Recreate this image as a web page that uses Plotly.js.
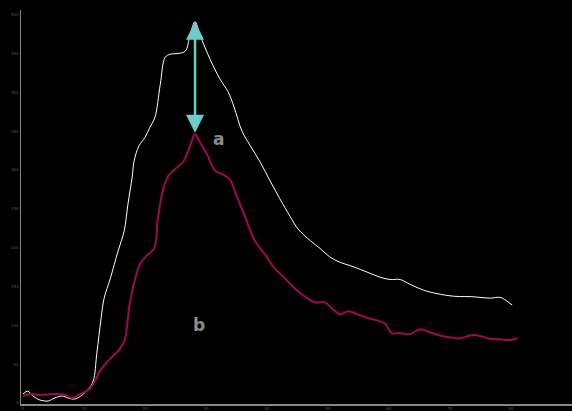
<!DOCTYPE html>
<html><head><meta charset="utf-8">
<script src="https://cdn.plot.ly/plotly-3.0.1.min.js"></script>
<style>html,body{margin:0;padding:0;background:#000;}#c{width:572px;height:411px;}</style>
</head><body><div id="c"></div>
<script>
var aX = [0,0.8,1.6,2.8,4.1,5.2,6.4,7.4,8.5,9.7,10.7,11.5,12.1,12.8,13.3,14.3,15.6,16.6,17.2,17.9,18.2,19.0,20.0,20.8,21.6,22.5,23.3,24.1,25.4,26.6,27.4,28.2,29.0,30.7,32.3,33.6,34.6,35.9,37.2,38.9,40.5,42.1,43.8,45.1,47.1,48.7,50.3,52.0,53.6,55.3,56.9,58.5,60.2,61.8,63.4,65.1,66.2,68.4,70.0,71.6,73.3,74.9,76.6,78.2,79.0,80.2];
var aY = [11.5,15.4,9,3.8,2.6,6.4,9,6.4,5.1,10.3,17.9,28.2,64,109,135,160,196,222,256,291,311,331,342,355,367,410,445,449,450,453,474,491,474,442,417,401,381,350,332,310,286,263,240,224,209,199,188,181,177,172,167,162,159,159,153,147,144,140,138,137,137,136,135,136,133,126];
var bX = [0,1.2,2.8,5.2,6.9,8.0,9.3,10.7,11.8,12.6,13.9,15.6,16.6,17.5,18.4,19.2,20.3,21.5,22.1,23.0,23.8,24.9,26.2,27.4,28.2,29.0,30.2,31.5,32.6,33.9,34.9,36.4,38.0,39.7,41.3,43.0,44.6,46.2,47.9,49.5,50.8,52.0,53.3,54.9,56.6,58.2,59.3,60.5,61.8,63.4,65.1,66.7,68.4,70.0,71.6,73.3,74.6,76.2,78.2,79.8,81.1];
var bY = [9,11.5,10.3,11.5,10.3,6.4,11.5,16.7,28.2,41,54,67,79.5,128,160,179,190,199,237,276,292,301,310,331,346,336,320,299,295,288,269,240,209,191,173,160,147,137,129.5,129.5,120.5,114,118,114,109,106,102.5,90,90,88.5,95,91,87,84.6,83,87,87,83,82,81,83];
var xTicks = [0,10,20,30,40,50,60,70,80];
var yTicks = [0,50,100,150,200,250,300,350,400,450,500];

var aMax = Math.max.apply(null, aY), bMax = Math.max.apply(null, bY);
var aPeakX = aX[aY.indexOf(aMax)], bPeakX = bX[bY.indexOf(bMax)];

var traces = [
  {x:aX, y:aY, mode:'lines', line:{color:'#ffffff', width:1, shape:'spline'}, hoverinfo:'none'},
  {x:bX, y:bY, mode:'lines', line:{color:'#9e0a4e', width:2, shape:'spline'}, hoverinfo:'none'}
];
var layout = {
  width:572, height:411,
  paper_bgcolor:'#000', plot_bgcolor:'#000',
  margin:{l:21, r:0, t:10, b:7},
  showlegend:false,
  xaxis:{range:[-0.33,90], tickvals:xTicks, showgrid:false, zeroline:false, showline:true, linecolor:'#888', linewidth:1.5,
         tickfont:{size:4, color:'#556', family:'DejaVu Sans'}, ticks:'', ticklen:0},
  yaxis:{range:[-1.3,506], tickvals:yTicks, showgrid:false, zeroline:false, showline:true, linecolor:'#888', linewidth:1.5,
         tickfont:{size:4, color:'#556', family:'DejaVu Sans'}, ticks:'', ticklen:0},
  annotations:[
    {x:aPeakX, y:aMax, ax:bPeakX, ay:bMax, xref:'x', yref:'y', axref:'x', ayref:'y', text:'', showarrow:true,
     arrowhead:2, startarrowhead:2, arrowside:'end+start', arrowcolor:'#6ecdc8', arrowwidth:2.5, arrowsize:1.45, startarrowsize:1.45},
    {x:32, y:340, xref:'x', yref:'y', text:'<b>a</b>', showarrow:false, font:{size:17, color:'#8c8c8c', family:'DejaVu Sans'}},
    {x:28.85, y:100, xref:'x', yref:'y', text:'<b>b</b>', showarrow:false, font:{size:17, color:'#8c8c8c', family:'DejaVu Sans'}}
  ]
};
Plotly.newPlot('c', traces, layout, {staticPlot:true, displayModeBar:false});
</script></body></html>
